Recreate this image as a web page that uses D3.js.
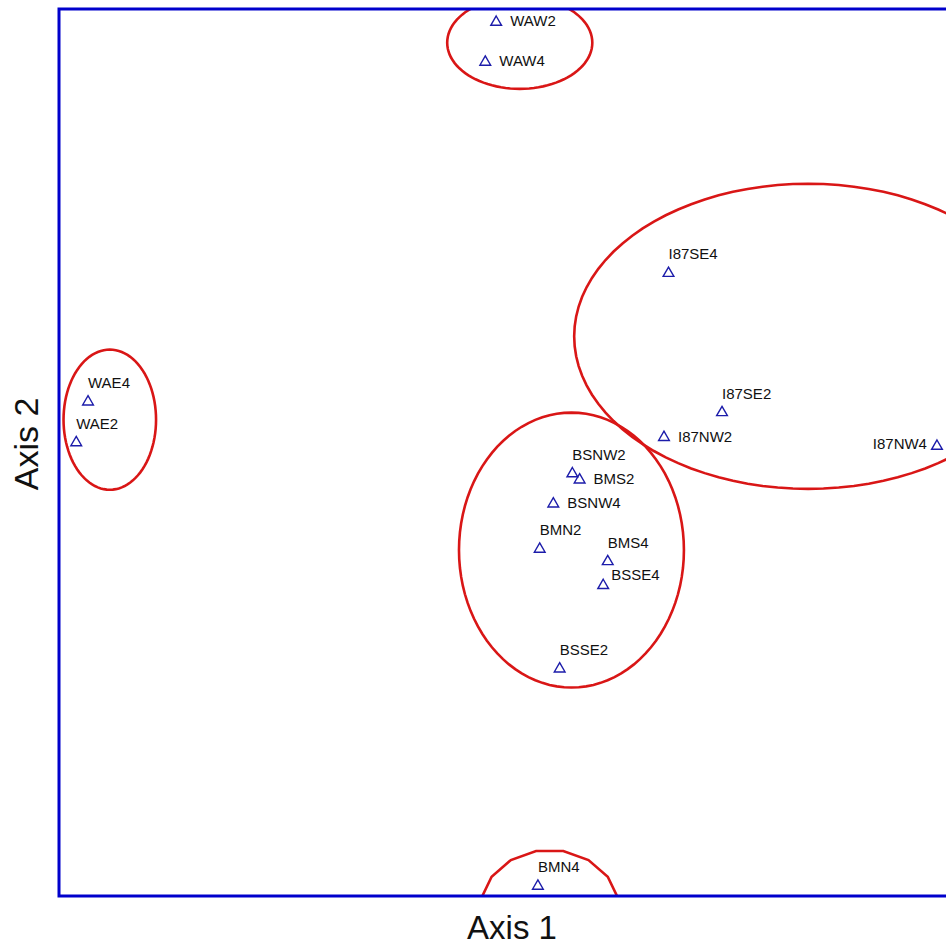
<!DOCTYPE html>
<html>
<head>
<meta charset="utf-8">
<script src="https://cdn.jsdelivr.net/npm/d3@7"></script>
<style>
  html, body { margin: 0; padding: 0; background: #ffffff; }
  svg { display: block; }
</style>
</head>
<body>
<script>
// Site scores on the first two ordination axes
const sites  = ["WAW2","WAW4","WAE4","WAE2","I87SE4","I87SE2","I87NW2","I87NW4",
                "BSNW2","BMS2","BSNW4","BMN2","BMS4","BSSE4","BSSE2","BMN4"];
const axis1  = [48.2, 47.0, 3.2, 1.9, 67.2, 73.1, 66.7, 96.8,
                56.6, 57.4, 54.5, 53.0, 60.5, 60.0, 55.2, 52.8];
const axis2  = [98.6, 94.1, 55.8, 51.2, 70.3, 54.6, 51.8, 50.8,
                47.7, 47.0, 44.3, 39.2, 37.8, 35.1, 25.7, 1.2];

// Group envelopes (centre and half-widths in axis units)
const groupNames = ["WAW", "WAE", "I87", "B", "BMN4"];
const groupCx    = [50.8, 5.6, 82.6, 56.5, 54.1];
const groupCy    = [96.2, 53.7, 63.1, 39.0, -1.6];
const groupRx    = [8.0, 5.1, 25.8, 12.4, 7.7];
const groupRy    = [5.2, 7.9, 17.2, 15.5, 6.8];

const axisTitles = ["Axis 1", "Axis 2"];

// Where each site label sits relative to its marker
const labelSide = {
  WAW2: "right", WAW4: "right", I87NW2: "right", BMS2: "right", BSNW4: "right",
  BSSE4: "upright", I87NW4: "left"
};

const W = 946, H = 945;
const frame = { left: 59, top: 9, right: 966, bottom: 896 };

const svg = d3.select("body").append("svg")
  .attr("width", W).attr("height", H);

const x = d3.scaleLinear().domain([0, 100]).range([frame.left, frame.right]);
const y = d3.scaleLinear().domain([0, 100]).range([frame.bottom, frame.top]);

svg.append("defs").append("clipPath").attr("id", "plot-clip")
  .append("rect")
  .attr("x", frame.left).attr("y", frame.top)
  .attr("width", frame.right - frame.left)
  .attr("height", frame.bottom - frame.top);

// Envelopes drawn as closed polygons around each group
const line = d3.line().x(d => d[0]).y(d => d[1]).curve(d3.curveLinearClosed);
const envelopes = groupNames.map((name, i) => {
  const segs = name === "BMN4" ? 16 : 96;
  const offset = name === "BMN4" ? Math.PI / 16 : 0;
  return d3.range(segs).map(k => {
    const a = offset + 2 * Math.PI * k / segs;
    return [x(groupCx[i] + groupRx[i] * Math.cos(a)),
            y(groupCy[i] + groupRy[i] * Math.sin(a))];
  });
});

svg.append("g").attr("clip-path", "url(#plot-clip)")
  .selectAll("path").data(envelopes).join("path")
  .attr("d", line)
  .attr("fill", "none")
  .attr("stroke", "#d91616")
  .attr("stroke-width", 2.6);

// Site markers
const pts = sites.map((s, i) => ({ name: s, px: x(axis1[i]), py: y(axis2[i]) }));
const tri = d3.symbol().type(d3.symbolTriangle).size(50);

svg.append("g").selectAll("path").data(pts).join("path")
  .attr("transform", d => `translate(${d.px},${d.py + 0.8})`)
  .attr("d", tri)
  .attr("fill", "none")
  .attr("stroke", "#1c1caa")
  .attr("stroke-width", 1.4);

// Site labels
svg.append("g").selectAll("text").data(pts).join("text")
  .attr("font-family", "'Liberation Sans', Arial, sans-serif")
  .attr("font-size", 15)
  .attr("fill", "#111")
  .attr("x", d => {
    const side = labelSide[d.name];
    if (side === "right") return d.px + 14;
    if (side === "upright") return d.px + 8;
    if (side === "left") return d.px - 10;
    return d.px;
  })
  .attr("y", d => {
    const side = labelSide[d.name];
    if (side === "right") return d.py + 5;
    if (side === "upright") return d.py - 5;
    if (side === "left") return d.py + 4;
    return d.py - 13;
  })
  .attr("text-anchor", d => labelSide[d.name] === "left" ? "end" : "start")
  .text(d => d.name);

// Plot frame
svg.append("rect")
  .attr("x", frame.left).attr("y", frame.top)
  .attr("width", frame.right - frame.left)
  .attr("height", frame.bottom - frame.top)
  .attr("fill", "none")
  .attr("stroke", "#0000cc")
  .attr("stroke-width", 3);

// Axis titles
svg.append("text")
  .attr("x", 512).attr("y", 939)
  .attr("text-anchor", "middle")
  .attr("font-family", "'Liberation Sans', Arial, sans-serif")
  .attr("font-size", 33)
  .attr("fill", "#111")
  .text(axisTitles[0]);

svg.append("text")
  .attr("transform", "translate(38,444) rotate(-90)")
  .attr("text-anchor", "middle")
  .attr("font-family", "'Liberation Sans', Arial, sans-serif")
  .attr("font-size", 34)
  .attr("fill", "#111")
  .text(axisTitles[1]);
</script>
</body>
</html>
